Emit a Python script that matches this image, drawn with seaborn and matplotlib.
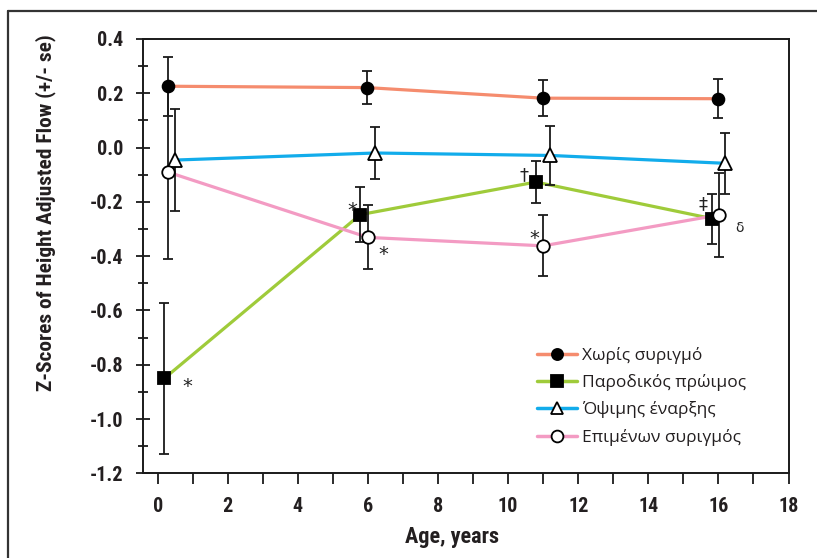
import matplotlib
matplotlib.use("Agg")
import matplotlib.pyplot as plt
import seaborn as sns
import pandas as pd
from matplotlib.lines import Line2D
from matplotlib.ticker import MultipleLocator, FixedLocator
from matplotlib import font_manager

# ---- data ----
groups = ["Χωρίς συριγμό", "Παροδικός πρώιμος", "Όψιμης έναρξης", "Επιμένων συριγμός"]

age_none = [0.28, 5.97, 11.0, 16.0]
z_none = [0.226, 0.221, 0.182, 0.180]
se_none = [0.108, 0.060, 0.067, 0.072]

age_transient = [0.19, 5.78, 10.79, 15.83]
z_transient = [-0.850, -0.247, -0.127, -0.262]
se_transient = [0.278, 0.100, 0.078, 0.092]

age_late = [0.49, 6.2, 11.2, 16.2]
z_late = [-0.046, -0.020, -0.029, -0.058]
se_late = [0.187, 0.096, 0.108, 0.112]

age_persist = [0.28, 6.0, 11.0, 16.02]
z_persist = [-0.090, -0.331, -0.362, -0.248]
se_persist = [0.320, 0.118, 0.112, 0.155]

x_ticks = [0, 2, 4, 6, 8, 10, 12, 14, 16, 18]
y_ticks = [-1.2, -1.0, -0.8, -0.6, -0.4, -0.2, 0.0, 0.2, 0.4]

# significance marks: (text, x, y, size)
marks = [("*", 0.85, -0.88, 14), ("*", 5.55, -0.23, 14), ("*", 6.45, -0.395, 14),
         ("†", 10.45, -0.10, 13), ("*", 10.75, -0.335, 14), ("‡", 15.55, -0.21, 13),
         ("δ", 16.6, -0.295, 10)]

colors = ["#F58C6E", "#9FCB3A", "#12ACEB", "#F39BC3"]
markers = ["o", "s", "^", "o"]
mfaces = ["black", "black", "white", "white"]
msizes = [8.5, 8.5, 9.5, 9.0]

series = [(age_none, z_none, se_none), (age_transient, z_transient, se_transient),
          (age_late, z_late, se_late), (age_persist, z_persist, se_persist)]

rows = []
for g, (a, z, s) in zip(groups, series):
    for ai, zi, si in zip(a, z, s):
        rows.append({"group": g, "age": ai, "z": zi, "se": si})
df = pd.DataFrame(rows)

# ---- styling ----
sns.set_style("ticks")
installed = {f.name for f in font_manager.fontManager.ttflist}
cands = ["Liberation Sans Narrow", "DejaVu Sans Condensed", "Roboto Condensed",
         "Open Sans Condensed", "Roboto"]
tick_font = [c for c in cands if c in installed] + ["DejaVu Sans"]
narrow = tick_font[0] in ("Liberation Sans Narrow", "DejaVu Sans Condensed",
                          "Roboto Condensed", "Open Sans Condensed")
plt.rcParams["font.family"] = ["Open Sans", "DejaVu Sans"]

fig = plt.figure(figsize=(8.17, 5.58), dpi=100)
ax = fig.add_axes([142.7 / 817, 1 - 473.3 / 558, (788.5 - 142.7) / 817, (473.3 - 39) / 558])

sns.lineplot(data=df, x="age", y="z", hue="group", hue_order=groups,
             palette=dict(zip(groups, colors)), sort=False, estimator=None,
             legend=False, lw=2.3, ax=ax, zorder=2)

for i, g in enumerate(groups):
    d = df[df["group"] == g]
    ax.errorbar(d["age"], d["z"], yerr=d["se"], fmt="none", ecolor="#1a1a1a",
                elinewidth=1.3, capsize=3.5, capthick=1.3, zorder=3)
for i, g in enumerate(groups):
    d = df[df["group"] == g]
    ax.plot(d["age"], d["z"], ls="none", marker=markers[i], ms=msizes[i],
            mfc=mfaces[i], mec="black", mew=1.3, zorder=4 + i)

for t, x, y, s in marks:
    ax.text(x, y, t, ha="center", va="center", fontsize=s, color="#222222",
            family=["DejaVu Sans"], zorder=10)

ax.set_xlim(-0.43, 18)
ax.set_ylim(-1.2, 0.4)
ax.xaxis.set_major_locator(FixedLocator(x_ticks))
ax.xaxis.set_minor_locator(MultipleLocator(1))
ax.yaxis.set_major_locator(FixedLocator(y_ticks))
ax.yaxis.set_minor_locator(MultipleLocator(0.1))
ax.set_xticklabels([str(v) for v in x_ticks])
ax.set_yticklabels([f"{v:.1f}" for v in y_ticks])

for sp in ax.spines.values():
    sp.set_color("#1a1a1a")
    sp.set_linewidth(1.4)

ax.tick_params(axis="x", which="both", direction="out", length=8, width=1.3,
               color="#1a1a1a", pad=9)
ax.tick_params(axis="y", which="major", direction="inout", length=10, width=1.3,
               color="#1a1a1a", pad=9)
ax.tick_params(axis="y", which="minor", direction="inout", length=7, width=1.3,
               color="#1a1a1a")
tick_size = 14.5 if narrow else 12
for lab in ax.get_xticklabels() + ax.get_yticklabels():
    lab.set_family(tick_font)
    lab.set_fontweight("bold")
    lab.set_fontsize(tick_size)
    lab.set_color("#231f20")

ax.set_xlabel("Age, years", fontsize=16 if narrow else 13, fontweight="bold",
              family=tick_font, color="#231f20")
ax.xaxis.set_label_coords((452 - 142.7) / 645.8, -(537 - 473.3) / 434.3)
ax.xaxis.label.set_va("center")
ax.set_ylabel("Z-Scores of Height Adjusted Flow (+/- se)",
              fontsize=15.4 if narrow else 11.5, fontweight="bold",
              family=tick_font, color="#231f20")
ax.yaxis.set_label_coords((46 - 142.7) / 645.8, (473.3 - 213) / 434.3)
ax.yaxis.label.set_va("center")

handles = [Line2D([], [], color=colors[i], lw=2.5, marker=markers[i], ms=msizes[i] - 0.5,
                  mfc=mfaces[i], mec="black", mew=1.3) for i in range(4)]
ax.legend(handles, groups, loc="upper left", bbox_to_anchor=(521 / 817, 1 - 331 / 558),
          bbox_transform=fig.transFigure, frameon=False, fontsize=12.5,
          handlelength=2.3, handletextpad=0.3, labelspacing=0.6,
          labelcolor="#231f20")

# outer frame (top and left visible)
fig.add_artist(Line2D([8 / 817, 8 / 817], [0, 1 - 11 / 558], transform=fig.transFigure,
                      color="#333333", lw=1.6))
fig.add_artist(Line2D([8 / 817, 1], [1 - 11 / 558, 1 - 11 / 558], transform=fig.transFigure,
                      color="#333333", lw=1.6))

fig.savefig("out.png", dpi=100)
